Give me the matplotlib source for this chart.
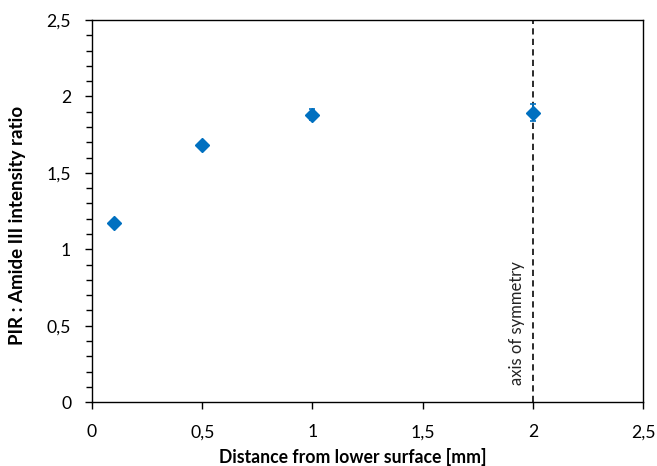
import matplotlib
matplotlib.use('Agg')
import matplotlib.pyplot as plt
from matplotlib.ticker import MultipleLocator, FuncFormatter
import numpy as np

# Measurement data
distance = [0.1, 0.5, 1.0, 2.0]
ratio = [1.172, 1.682, 1.880, 1.895]
ratio_err = [0.012, 0.012, 0.035, 0.058]
symmetry_x = 2.0

plt.rcParams['font.family'] = ['Lato', 'DejaVu Sans']

fig = plt.figure(figsize=(6.57, 4.66), dpi=100)
ax = fig.add_axes([0.140, 0.137, 0.839, 0.820])

# Axis of symmetry
ax.axvline(symmetry_x, color='#2b2b2b', lw=1.4, ls=(0, (3.2, 2.2)), zorder=1)
ax.text(symmetry_x - 0.035, 0.11, 'axis of symmetry', rotation=90,
        ha='right', va='bottom', fontsize=12, color='#222222')

ax.errorbar(distance, ratio, yerr=ratio_err, fmt='D', color='#0070C0',
            ms=7.5, elinewidth=1.2, capsize=2.5, capthick=1.2, zorder=3)

ax.set_xlim(0, 2.5)
ax.set_ylim(0, 2.5)
ax.xaxis.set_major_locator(MultipleLocator(0.5))
ax.yaxis.set_major_locator(MultipleLocator(0.5))
ax.yaxis.set_minor_locator(MultipleLocator(0.1))

comma = FuncFormatter(lambda v, pos: ('%g' % v).replace('.', ','))
ax.xaxis.set_major_formatter(comma)
ax.yaxis.set_major_formatter(comma)

ax.tick_params(axis='both', which='major', direction='out', length=5,
               width=1, labelsize=12.7, colors='black')
ax.tick_params(axis='y', which='minor', direction='out', length=4, width=1)
ax.tick_params(axis='x', pad=11)
ax.tick_params(axis='y', pad=10)

for s in ax.spines.values():
    s.set_linewidth(1.0)
    s.set_color('black')

ax.set_xlabel('Distance from lower surface [mm]', fontsize=12.7,
              fontweight='bold')
ax.set_ylabel('PIR : Amide III intensity ratio', fontsize=13.5,
              fontweight='bold')
ax.xaxis.set_label_coords(0.474, -0.121)
ax.yaxis.set_label_coords(-0.120, 0.463)

fig.savefig('out.png', dpi=100)
